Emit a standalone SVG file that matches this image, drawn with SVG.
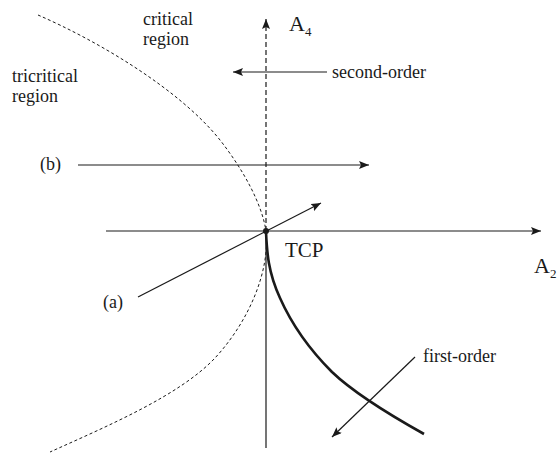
<svg xmlns="http://www.w3.org/2000/svg" width="560" height="461" viewBox="0 0 560 461">
<style>
.t { font-family: 'Liberation Serif', serif; fill: #1a1a1a; }
.ln { stroke: #1a1a1a; stroke-width: 1.2; fill: none; }
.arr { marker-end: url(#ah); }
</style>
<defs>
<marker id="ah" markerUnits="userSpaceOnUse" markerWidth="12" markerHeight="10" refX="10" refY="4" orient="auto">
<path d="M0,0 L10,4 L0,8 L2,4 Z" fill="#1a1a1a"/>
</marker>
</defs>
<rect width="560" height="461" fill="#fff"/>
<g id="connectors">
<path id="boundary" d="M38,15 C100,42 180,90 220,140 C245,172 262,205 266,231 C270,270 250,320 215,358 C180,395 110,425 50,452" fill="none" stroke="#1a1a1a" stroke-width="1" stroke-dasharray="3,2.5"/>
<line id="a4-axis" x1="266" y1="231" x2="266" y2="19" class="ln arr" stroke-dasharray="5,3"/>
<line id="a4-lower" x1="266" y1="231" x2="266" y2="448" class="ln"/>
<line id="a2-axis" x1="106" y1="231" x2="541" y2="231" class="ln arr"/>
<line id="arrow-second" x1="327" y1="72" x2="233" y2="72" class="ln arr"/>
<line id="arrow-b" x1="78" y1="165" x2="369" y2="165" class="ln arr"/>
<line id="arrow-a" x1="138" y1="297" x2="321" y2="203" class="ln arr"/>
<line id="arrow-first" x1="415" y1="357" x2="332" y2="437" class="ln arr"/>
<path id="first-order-line" d="M266,232 C267,252 268,272 280,298 C292,325 312,352 332,372 C355,394 390,415 424,434" fill="none" stroke="#1a1a1a" stroke-width="2.6"/>
</g>
<g id="tcp"><circle cx="266" cy="231" r="3" fill="#1a1a1a"/><text class="t" x="285" y="257" font-size="21">TCP</text></g>
<g id="a4-label"><text class="t" x="289" y="31" font-size="22">A<tspan font-size="13" dy="5">4</tspan></text></g>
<g id="a2-label"><text class="t" x="534" y="273" font-size="22">A<tspan font-size="13" dy="5">2</tspan></text></g>
<g id="critical"><text class="t" x="143" y="25" font-size="18">critical</text><text class="t" x="143" y="45" font-size="18">region</text></g>
<g id="tricritical"><text class="t" x="12" y="82" font-size="18">tricritical</text><text class="t" x="12" y="102" font-size="18">region</text></g>
<g id="second-order"><text class="t" x="332" y="78" font-size="18">second-order</text></g>
<g id="first-order"><text class="t" x="423" y="362" font-size="18">first-order</text></g>
<g id="label-b"><text class="t" x="40" y="170" font-size="18">(b)</text></g>
<g id="label-a"><text class="t" x="103" y="308" font-size="18">(a)</text></g>
</svg>
